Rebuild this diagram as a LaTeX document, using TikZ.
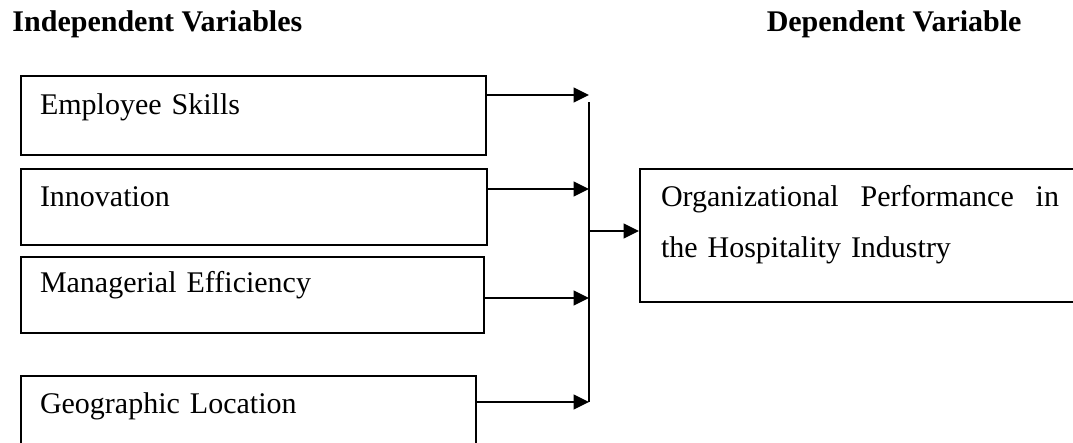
\documentclass[tikz,border=0pt]{standalone}
\usepackage{fontspec}
\setmainfont{Liberation Serif}
\usetikzlibrary{arrows.meta, positioning}

\begin{document}
\begin{tikzpicture}[
    x=0.4pt, y=-0.4pt,
    font=\fontsize{12}{14.4}\selectfont,
    box/.style={draw, line width=0.8pt, inner xsep=7.6pt, inner ysep=0pt, align=left, anchor=north west},
    head/.style={font=\fontsize{12}{14.4}\selectfont\bfseries, inner sep=0pt},
    arrow/.style={-{Triangle[length=6.2pt, width=6pt]}, line width=0.6pt},
    bar/.style={line width=0.6pt}
]
\useasboundingbox (0,0) rectangle (1073,442);
\node[head, anchor=base west] (indep) at (12,31) {Independent Variables};
\node[head, anchor=base east] (dep) at (1022,31) {Dependent Variable};

\node[box, text width=170.8pt, text height=15.2pt, text depth=16.4pt] (skills) at (20,75) {Employee Skills};
\node[box, text width=171.2pt, text height=14.8pt, text depth=15.6pt, below=4.8pt of skills.south west, anchor=north west] (innov) {Innovation};
\node[box, text width=170pt, text height=14pt, text depth=16.4pt, below=4pt of innov.south west, anchor=north west] (manag) {Managerial Efficiency};
\node[box, text width=166.8pt, text height=14.8pt, text depth=14pt, below=16.4pt of manag.south west, anchor=north west] (geo) {Geographic Location};

\node[box, inner xsep=8.4pt, text width=159.2pt, text height=14.8pt, text depth=38.4pt, font=\fontsize{12}{20.4}\selectfont] (perf) at (639,168)
    {Organizational\hfill Performance\hfill in\\the Hospitality Industry};

% joining bar
\coordinate (bus) at (589,102);
\coordinate (busend) at (589,402);
\draw[bar] (bus) -- (busend);

\draw[arrow] ([yshift=8.2pt]skills.east) coordinate (s1) -- (s1 -| bus);
\draw[arrow] ([yshift=7.2pt]innov.east) coordinate (s2) -- (s2 -| bus);
\draw[arrow] ([yshift=-1.2pt]manag.east) coordinate (s3) -- (s3 -| bus);
\draw[arrow] ([yshift=4pt]geo.east) coordinate (s4) -- (s4 -| bus);
\coordinate (p1) at ([yshift=1.8pt]perf.west);
\draw[arrow] (p1 -| bus) -- (p1);
\end{tikzpicture}
\end{document}
